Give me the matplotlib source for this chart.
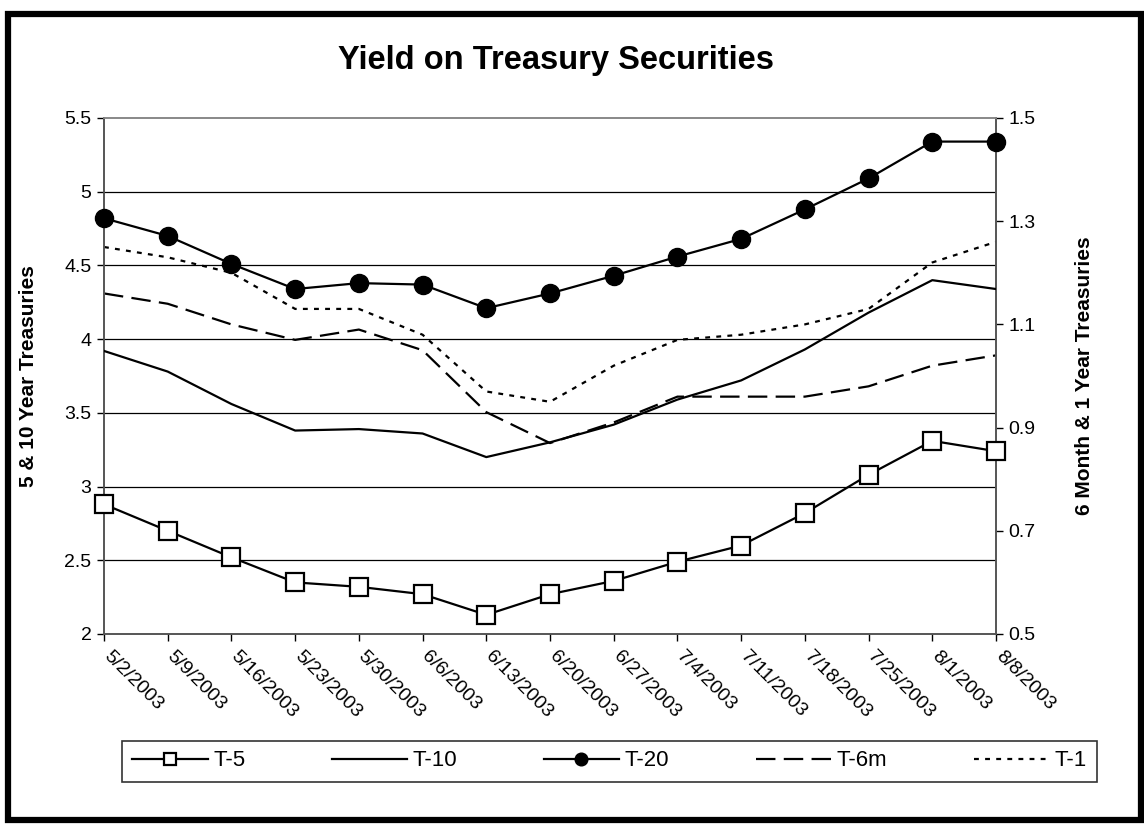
import matplotlib
matplotlib.use('Agg')
import matplotlib.pyplot as plt
from matplotlib.patches import Rectangle
from matplotlib.transforms import ScaledTranslation

plt.rcParams['font.family'] = ['Liberation Sans', 'DejaVu Sans']
plt.rcParams['lines.scale_dashes'] = False

# weekly dates
dates = ['5/2/2003', '5/9/2003', '5/16/2003', '5/23/2003', '5/30/2003',
         '6/6/2003', '6/13/2003', '6/20/2003', '6/27/2003', '7/4/2003',
         '7/11/2003', '7/18/2003', '7/25/2003', '8/1/2003', '8/8/2003']

# left axis (5 & 10 year)
t5 = [2.88, 2.70, 2.52, 2.35, 2.32, 2.27, 2.13, 2.27, 2.36, 2.49,
      2.60, 2.82, 3.08, 3.31, 3.24]
t10 = [3.92, 3.78, 3.56, 3.38, 3.39, 3.36, 3.20, 3.30, 3.42, 3.59,
       3.72, 3.93, 4.18, 4.40, 4.34]
t20 = [4.82, 4.70, 4.51, 4.34, 4.38, 4.37, 4.21, 4.31, 4.43, 4.56,
       4.68, 4.88, 5.09, 5.34, 5.34]

# right axis (6 month & 1 year)
t6m = [1.16, 1.14, 1.10, 1.07, 1.09, 1.05, 0.93, 0.87, 0.91, 0.96,
       0.96, 0.96, 0.98, 1.02, 1.04]
t1 = [1.25, 1.23, 1.20, 1.13, 1.13, 1.08, 0.97, 0.95, 1.02, 1.07,
      1.08, 1.10, 1.13, 1.22, 1.26]

left_ticks = [2, 2.5, 3, 3.5, 4, 4.5, 5, 5.5]
right_ticks = [0.5, 0.7, 0.9, 1.1, 1.3, 1.5]

W, H = 1144, 824
L, R, T, B = 104, 996, 118, 634
fig = plt.figure(figsize=(W / 100, H / 100), dpi=100)
ax = fig.add_axes([L / W, 1 - B / H, (R - L) / W, (B - T) / H])
ax2 = ax.twinx()
ax.set_zorder(ax2.get_zorder() + 1)
ax.patch.set_visible(False)

x = list(range(len(dates)))
LW = 1.6
h5, = ax.plot(x, t5, color='black', lw=LW, marker='s', ms=13,
              mfc='white', mec='black', mew=1.6, label='T-5', zorder=4,
              clip_on=False)
h10, = ax.plot(x, t10, color='black', lw=LW, label='T-10', zorder=3)
h20, = ax.plot(x, t20, color='black', lw=LW, marker='o', ms=13,
               mfc='black', mec='black', label='T-20', zorder=4,
               clip_on=False)
h6m, = ax2.plot(x, t6m, color='black', lw=LW, dashes=(14, 6), label='T-6m')
h1, = ax2.plot(x, t1, color='black', lw=LW, dashes=(3.5, 4.5), label='T-1')

ax.set_xlim(0, len(dates) - 1)
ax.set_ylim(2, 5.5)
ax2.set_ylim(0.5, 1.5)
ax.set_yticks(left_ticks)
ax.set_yticklabels([f'{v:g}' for v in left_ticks])
ax2.set_yticks(right_ticks)
ax2.set_yticklabels([f'{v:g}' for v in right_ticks])
ax.set_xticks(x)
ax.set_xticklabels(dates, rotation=-45, ha='left', va='top',
                   rotation_mode='anchor')

for a in (ax, ax2):
    a.tick_params(direction='out', length=5, width=1, labelsize=14,
                  colors='black', pad=4)
    for s in a.spines.values():
        s.set_color('#555555'); s.set_linewidth(1.2)
ax.tick_params(axis='x', pad=5)
ax.spines['top'].set_color('#888888')
ax2.spines['top'].set_color('#888888')

shift = ScaledTranslation(8 / 100, 0, fig.dpi_scale_trans)
for lab in ax.get_xticklabels():
    lab.set_transform(lab.get_transform() + shift)

# gridlines sit on the back axes so they stay under every series
ax2.set_yticks(right_ticks)
for v in left_ticks[1:-1]:
    ax2.axhline(0.5 + (v - 2) / 3.5, color='black', lw=0.9, zorder=0)

ymid = 1 - (T + B) / 2 / H
ax.set_ylabel('5 & 10 Year Treasuries', fontsize=15, fontweight='bold')
ax.yaxis.set_label_coords(38 / W, ymid, transform=fig.transFigure)
ax2.set_ylabel('6 Month & 1 Year Treasuries', fontsize=15, fontweight='bold')
ax2.yaxis.set_label_coords(1075 / W, ymid, transform=fig.transFigure)

fig.text(556 / W, 1 - 60 / H, 'Yield on Treasury Securities', ha='center',
         va='center', fontsize=23.5, fontweight='bold')

leg = fig.legend(handles=[h5, h10, h20, h6m, h1], ncol=5, mode='expand',
                 loc='center',
                 bbox_to_anchor=(122 / W, 1 - 785 / H, 975 / W, 48 / H),
                 fontsize=16, frameon=True, fancybox=False, edgecolor='black',
                 handlelength=3.4, handletextpad=0.25, markerscale=0.7,
                 borderaxespad=0, borderpad=0.45)
leg.get_frame().set_linewidth(1.2)

# outer chart frame
fig.add_artist(Rectangle((8 / W, 4 / H), 1133 / W, 1 - 18 / H,
                         transform=fig.transFigure, fill=False,
                         edgecolor='black', lw=4.5))

fig.savefig('out.png', dpi=100, facecolor='white')
